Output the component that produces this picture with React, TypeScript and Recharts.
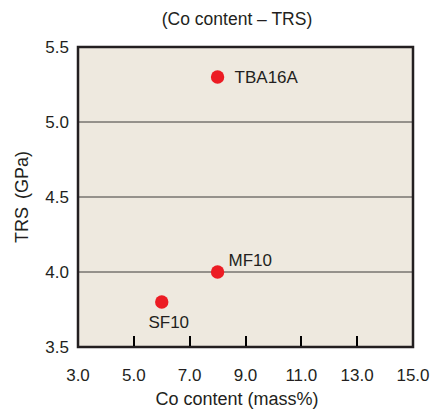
import React from "react";
import {
  ScatterChart,
  Scatter,
  XAxis,
  YAxis,
  CartesianGrid,
  ReferenceArea,
  LabelList,
} from "recharts";

const grades = ["SF10", "MF10", "TBA16A"];
const coContent = [6.0, 8.0, 8.0];
const trs = [3.8, 4.0, 5.3];

const xTicks = [3, 5, 7, 9, 11, 13, 15];
const yTicks = [3.5, 4.0, 4.5, 5.0, 5.5];
const innerTicks = [5, 7, 9, 11, 13];

const points = grades.map((name, i) => ({ name, x: coContent[i], y: trs[i] }));
const tickMarks = innerTicks.map((x) => ({ x, y: yTicks[0] }));

const FONT = "'Liberation Sans', Arial, sans-serif";
const INK = "#231F20";

// where each grade label sits relative to its dot
const labelPlace: Record<string, { dx: number; dy: number; anchor: string }> = {
  SF10: { dx: 7, dy: 26, anchor: "middle" },
  MF10: { dx: 11, dy: -6, anchor: "start" },
  TBA16A: { dx: 17, dy: 6, anchor: "start" },
};

const Dot = (p: any) => <circle cx={p.cx} cy={p.cy} r={6.7} fill="#EC1C24" />;

// short inward tick standing on the bottom frame
const TickMark = (p: any) => (
  <rect x={Math.round(p.cx) - 1} y={p.cy - 11} width={2} height={10} fill="#000000" />
);

const PointLabel = (p: any) => {
  const place = labelPlace[p.value];
  if (!place) return null;
  const cx = p.x + p.width / 2;
  const cy = p.y + p.height / 2;
  return (
    <text x={cx + place.dx} y={cy + place.dy} textAnchor={place.anchor} fontSize={17} fill={INK} fontFamily={FONT}>
      {p.value}
    </text>
  );
};

export default function App() {
  return (
    <div style={{ position: "absolute", left: 0, top: 0, width: 433, height: 410, fontFamily: FONT, color: INK }}>
      <div style={{ position: "absolute", left: 0, width: 474, top: 9, textAlign: "center", fontSize: 17.5 }}>
        (Co content – TRS)
      </div>
      <ScatterChart width={433} height={410} margin={{ top: 47, right: 20, bottom: 33, left: 18 }}>
        <CartesianGrid vertical={false} fill="#EEE9DF" stroke="#3C3A38" strokeOpacity={1} />
        <XAxis
          type="number"
          dataKey="x"
          domain={[3, 15]}
          ticks={xTicks}
          tickFormatter={(v: number) => v.toFixed(1)}
          axisLine={false}
          tickLine={false}
          tickSize={0}
          tickMargin={22}
          height={30}
          tick={{ fill: INK, fontSize: 17, fontFamily: FONT }}
        />
        <YAxis
          type="number"
          dataKey="y"
          domain={[3.5, 5.5]}
          ticks={yTicks}
          tickFormatter={(v: number) => v.toFixed(1)}
          axisLine={false}
          tickLine={false}
          tickSize={0}
          tickMargin={9}
          width={60}
          tick={{ fill: INK, fontSize: 17, fontFamily: FONT }}
        />
        <ReferenceArea x1={3} x2={15} y1={3.5} y2={5.5} fill="none" stroke={INK} strokeWidth={2.5} ifOverflow="visible" />
        <Scatter data={tickMarks} shape={TickMark} isAnimationActive={false} />
        <Scatter data={points} shape={Dot} isAnimationActive={false}>
          <LabelList dataKey="name" content={PointLabel} />
        </Scatter>
      </ScatterChart>
      <div
        style={{
          position: "absolute",
          left: 22,
          top: 197,
          fontSize: 18,
          whiteSpace: "nowrap",
          transform: "translate(-50%, -50%) rotate(-90deg)",
          wordSpacing: 3,
        }}
      >
        TRS (GPa)
      </div>
      <div style={{ position: "absolute", left: 0, width: 474, top: 389, textAlign: "center", fontSize: 18 }}>
        Co content (mass%)
      </div>
    </div>
  );
}
